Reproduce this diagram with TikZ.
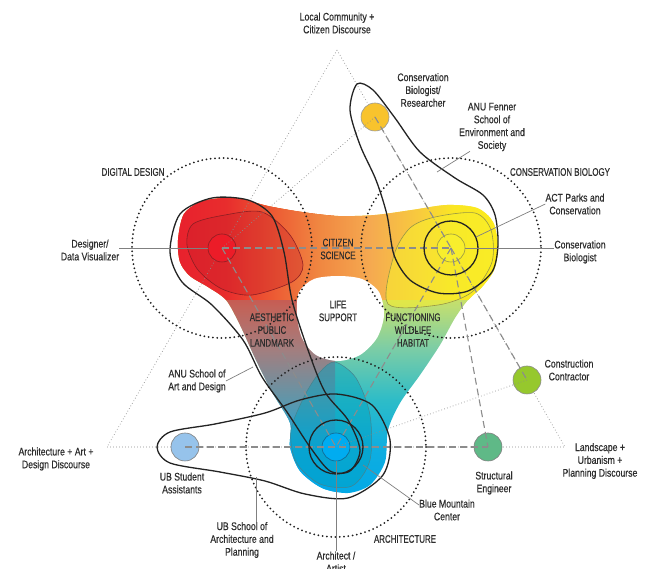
\documentclass[tikz,border=0pt]{standalone}
\usepackage{fontspec}
\setmainfont{Liberation Sans}[FakeStretch=0.79,FakeBold=0.35]
\newfontfamily\capsfont{Liberation Sans}[FakeStretch=0.72,FakeBold=0.35]
\usetikzlibrary{fadings}

\definecolor{txt}{RGB}{45,45,45}
\definecolor{lA}{RGB}{0,168,232}\definecolor{lB}{RGB}{15,166,224}\definecolor{lC}{RGB}{95,150,170}
\definecolor{lD}{RGB}{165,125,125}\definecolor{lE}{RGB}{195,98,88}\definecolor{lF}{RGB}{218,60,55}
\definecolor{lG}{RGB}{235,40,50}
\definecolor{rA}{RGB}{0,168,232}\definecolor{rB}{RGB}{15,174,224}\definecolor{rC}{RGB}{45,188,200}
\definecolor{rD}{RGB}{125,205,165}\definecolor{rE}{RGB}{190,222,115}\definecolor{rF}{RGB}{238,232,55}
\definecolor{rG}{RGB}{252,236,25}
\definecolor{tA}{RGB}{232,32,45}\definecolor{tB}{RGB}{232,45,45}\definecolor{tC}{RGB}{236,85,50}
\definecolor{tD}{RGB}{240,135,65}\definecolor{tE}{RGB}{245,170,80}\definecolor{tF}{RGB}{248,205,60}
\definecolor{tG}{RGB}{250,230,35}\definecolor{tH}{RGB}{252,236,28}
\definecolor{redD}{RGB}{140,30,35}\definecolor{redI}{RGB}{200,30,40}\definecolor{redC}{RGB}{236,28,40}
\definecolor{yelD}{RGB}{150,150,70}\definecolor{yelI}{RGB}{248,238,45}
\definecolor{tealI}{RGB}{0,160,190}\definecolor{tealD}{RGB}{70,130,140}
\definecolor{bluC}{RGB}{0,172,240}\definecolor{bluD}{RGB}{20,100,140}
\definecolor{goldC}{RGB}{248,195,45}\definecolor{ltbC}{RGB}{150,195,235}
\definecolor{engC}{RGB}{95,185,135}\definecolor{conC}{RGB}{150,200,45}
\definecolor{ring}{RGB}{35,35,35}

\pgfdeclareverticalshading{leftarm}{100bp}{color(0bp)=(lA); color(25bp)=(lA); color(33.9bp)=(lB); color(41.1bp)=(lC); color(49.2bp)=(lD); color(55.6bp)=(lE); color(62.1bp)=(lF); color(75bp)=(lG); color(100bp)=(lG)}
\pgfdeclareverticalshading{rightarm}{100bp}{color(0bp)=(rA); color(25bp)=(rA); color(33.9bp)=(rB); color(41.1bp)=(rC); color(49.2bp)=(rD); color(55.6bp)=(rE); color(62.1bp)=(rF); color(75bp)=(rG); color(100bp)=(rG)}
\pgfdeclarehorizontalshading{toparm}{100bp}{color(0bp)=(tA); color(25bp)=(tA); color(32.8bp)=(tB); color(39.1bp)=(tC); color(46.9bp)=(tD); color(54.7bp)=(tE); color(62.5bp)=(tF); color(67.2bp)=(tG); color(75bp)=(tH); color(100bp)=(tH)}

\begin{tikzfadingfrompicture}[name=fadebottom]
\fill[transparent!0] (-50bp,-33bp) rectangle (50bp,50bp);
\shade[top color=transparent!0,bottom color=transparent!100] (-50bp,-50bp) rectangle (50bp,-33bp);
\end{tikzfadingfrompicture}
\begin{tikzfadingfrompicture}[name=faderight]
\fill[transparent!0] (-50bp,-50bp) rectangle (26bp,50bp);
\shade[left color=transparent!0,right color=transparent!100] (26bp,-50bp) rectangle (50bp,50bp);
\end{tikzfadingfrompicture}

\begin{document}
\begin{tikzpicture}[x=1pt,y=-1pt,
  persona/.style={circle,minimum size=28pt,inner sep=0pt,line width=0.6pt},
  lbl/.style={align=center,text=txt,inner sep=0pt,font=\fontsize{11}{12.8}\selectfont},
  capslbl/.style={align=center,text=txt,inner sep=0pt,font=\capsfont\fontsize{11}{12.8}\selectfont},
  bigdots/.style={draw=black!88,line width=2pt,dash pattern=on 0pt off 4.3pt,line cap=round},
  tridot/.style={draw=black!45,line width=0.7pt,dash pattern=on 0.7pt off 2.3pt},
  dashline/.style={draw=black!45,line width=1.1pt,dash pattern=on 7pt off 4pt},
  blackloop/.style={draw=ring,line width=1.3pt},
  leader/.style={draw=black!50,line width=0.7pt}]
\useasboundingbox (0,0) rectangle (649,569);
\fill[white] (0,0) rectangle (649,569);

% colored band
\begin{scope}
\clip plot[smooth cycle] coordinates {(178,240) (184,214) (203,201) (235,198) (268,206) (302,212) (338,216) (375,215) (412,210) (447,205) (477,208) (493,222) (498,247) (494,270) (482,287) (468,300) (455,318) (440,345) (420,375) (400,403) (388,430) (385,462) (370,485) (348,493) (322,488) (300,471) (290,447) (290,423) (272,392) (255,358) (240,325) (226,300) (208,287) (190,276) (180,262)};
\shade[shading=rightarm] (150,180) rectangle (520,505);
\shade[shading=leftarm,path fading=faderight] (150,180) rectangle (335,505);
\shade[shading=toparm,path fading=fadebottom] (175,180) rectangle (505,300);
\end{scope}
\fill[white] plot[smooth cycle] coordinates {(338,276) (362,279) (379,292) (384,315) (377,338) (360,355) (338,361) (316,355) (302,338) (297,315) (299,292) (314,279)};

% inner shapes
\filldraw[draw=redD,fill=redI,fill opacity=0.35,line width=0.6pt] plot[smooth cycle] coordinates {(187,245) (193,224) (225,215) (262,212) (290,235) (303,265) (292,282) (252,295) (222,289) (198,270)};
\filldraw[draw=yelD,fill=yelI,fill opacity=0.55,line width=0.6pt] plot[smooth cycle] coordinates {(388,304) (394,255) (410,228) (435,217) (475,213) (491,230) (492,262) (472,292) (438,305)};
\filldraw[draw=tealD,fill=tealI,fill opacity=0.45,line width=0.5pt] plot[smooth cycle] coordinates {(335,362) (356,378) (370,415) (370,460) (352,486) (320,484) (296,462) (291,430) (305,395) (320,372)};

% triangle
\coordinate (apex) at (337,50);
\coordinate (lv) at (107,447);
\coordinate (rv) at (565,447);
\draw[tridot] (apex) -- (lv) -- (rv) -- cycle;

% dotted domain circles
\coordinate (cR) at (222,248);
\coordinate (cY) at (451,248);
\coordinate (cB) at (336,447);
\draw[bigdots] (cR) circle[radius=90];
\draw[bigdots] (cY) circle[radius=90];
\draw[bigdots] (cB) circle[radius=90];

% persona circles
\node[persona,fill=redC,draw=redD] (red) at (cR) {};
\node[persona,fill=yelI,draw=yelD] (yellow) at (cY) {};
\node[persona,fill=bluC,draw=bluD] (blue) at (cB) {};
\node[persona,fill=goldC,draw=black!40] (res) at (375,117) {};
\node[persona,fill=ltbC,draw=black!50] (ubs) at (185,447) {};
\node[persona,fill=engC,draw=black!50] (eng) at (488,447) {};
\node[persona,fill=conC,draw=black!45] (con) at (527,380) {};

% dotted relations
\draw[tridot] (res.center) -- (red.center);
\draw[tridot] (con.center) -- (blue.center);

% dashed relations
\draw[dashline] (red.center) -- (yellow.center);
\draw[dashline] (red.center) -- (blue.center);
\draw[dashline] (yellow.center) -- (blue.center);
\draw[dashline] (res.center) -- (yellow.center);
\draw[dashline] (yellow.center) -- (eng.center);
\draw[dashline] (yellow.center) -- (con.center);
\draw[dashline] (ubs.center) -- (eng.center);

% black organisation loops
\draw[blackloop] plot[smooth cycle] coordinates {(357,84) (373,90) (395,118) (420,152) (455,178) (483,195) (495,215) (498,245) (492,272) (468,291) (438,293) (410,280) (394,255) (387,215) (376,180) (360,145) (350,110)};
\draw[blackloop] plot[smooth cycle] coordinates {(170,252) (180,214) (212,198) (248,200) (272,216) (284,252) (292,300) (308,350) (325,392) (348,420) (360,450) (350,471) (330,471) (310,447) (287,412) (262,377) (243,340) (212,305) (182,282)};
\draw[blackloop] plot[smooth cycle] coordinates {(157,447) (170,432) (215,424) (265,413) (300,400) (336,394) (372,405) (390,440) (383,475) (348,498) (305,494) (265,481) (220,472) (170,463)};
\draw[blackloop] (yellow.center) circle[radius=27];
\draw[blackloop] (blue.center) circle[radius=27];

% labels
\node[lbl] (localc) at (337,23) {Local Community +\\Citizen Discourse};
\node[lbl] (reslbl) at (423,90) {Conservation\\Biologist/\\Researcher};
\node[lbl] (fenner) at (492,127) {ANU Fenner\\School of\\Environment and\\Society};
\node[capslbl] (digital) at (133,172) {DIGITAL DESIGN};
\node[capslbl] (consbio) at (560,172) {CONSERVATION BIOLOGY};
\node[lbl] (act) at (575,204) {ACT Parks and\\Conservation};
\node[lbl] (cbio) at (580,252) {Conservation\\Biologist};
\node[lbl] (designer) at (90,250) {Designer/\\Data Visualizer};
\node[capslbl] (citizen) at (338,249) {CITIZEN\\SCIENCE};
\node[capslbl] (life) at (338,311) {LIFE\\SUPPORT};
\node[capslbl] (aesthetic) at (272,330) {AESTHETIC\\PUBLIC\\LANDMARK};
\node[capslbl] (functioning) at (413,330) {FUNCTIONING\\WILDLIFE\\HABITAT};
\node[lbl] (anuart) at (197,381) {ANU School of\\Art and Design};
\node[lbl] (conlbl) at (569,370) {Construction\\Contractor};
\node[lbl] (archart) at (56,459) {Architecture + Art +\\Design Discourse};
\node[lbl] (ubslbl) at (182,483) {UB Student\\Assistants};
\node[lbl] (englbl) at (494,483) {Structural\\Engineer};
\node[lbl] (landscape) at (600,461) {Landscape +\\Urbanism +\\Planning Discourse};
\node[lbl] (ubschool) at (242,540) {UB School of\\Architecture and\\Planning};
\node[lbl] (bm) at (447,510) {Blue Mountain\\Center};
\node[capslbl] (archcaps) at (405,539) {ARCHITECTURE};
\node[lbl] (architect) at (336,562) {Architect /\\Artist};

% leaders
\coordinate (fenpt) at (437,172);
\coordinate (actpt) at (476,237);
\coordinate (artpt) at (253,367);
\coordinate (ubpt) at (256,477);
\coordinate (bmpt) at (363,465);
\draw[leader] ([xshift=-22pt]fenner.south) -- (fenpt);
\draw[leader] (act.west) -- (actpt);
\draw[leader] (yellow.east) -- (yellow.east -| cbio.west);
\draw[leader] (red.west) -- (red.west -| designer.east);
\draw[leader] (anuart.east) -- (artpt);
\draw[leader] (ubschool.north -| ubpt) -- (ubpt);
\draw[leader] ([yshift=5pt]bm.west) -- (bmpt);
\draw[leader] (blue.south) -- (architect.north);
\end{tikzpicture}
\end{document}
